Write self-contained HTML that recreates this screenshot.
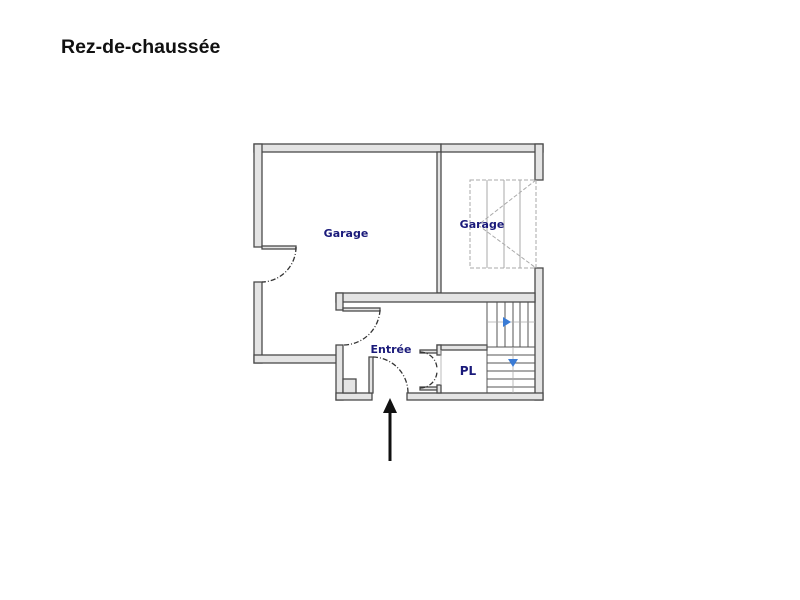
<!DOCTYPE html>
<html><head><meta charset="utf-8"><style>
html,body{margin:0;padding:0;background:#fff;}
body{width:800px;height:600px;position:relative;overflow:hidden;font-family:"Liberation Sans",sans-serif;}
.t{position:absolute;left:61px;top:36px;font-size:19.5px;font-weight:bold;color:#111;}
</style></head><body>
<div class="t">Rez-de-chaussée</div>
<svg width="800" height="600" style="position:absolute;left:0;top:0">
<g fill="#e4e4e4" stroke="#4a4a4a" stroke-width="1.3">
<rect x="254" y="144" width="187" height="8"/>
<rect x="441" y="144" width="102" height="8"/>
<rect x="535" y="144" width="8" height="36"/>
<rect x="535" y="268" width="8" height="132"/>
<rect x="254" y="144" width="8" height="103"/>
<rect x="254" y="282" width="8" height="81"/>
<rect x="254" y="355" width="86" height="8"/>
<rect x="437" y="152" width="4" height="141"/>
<rect x="336" y="293" width="199" height="9"/>
<rect x="336" y="293" width="7" height="17"/>
<rect x="336" y="345" width="7" height="55"/>
<rect x="336" y="393" width="36" height="7"/>
<rect x="407" y="393" width="136" height="7"/>
<rect x="262" y="246" width="34" height="3"/>
<rect x="343" y="308" width="37" height="3"/>
<rect x="369" y="357" width="4" height="36"/>
<rect x="343" y="379" width="13" height="14"/>
<rect x="437" y="345" width="50" height="5"/>
<rect x="420" y="350" width="20" height="3"/>
<rect x="420" y="387" width="20" height="3"/>
<rect x="437" y="345" width="4" height="10"/>
<rect x="437" y="385" width="4" height="8"/>
</g>
<g fill="none" stroke="#333" stroke-width="1.3" stroke-dasharray="5,2,1,2">
<path d="M296 247 A35 35 0 0 1 262 282"/>
<path d="M380 310 A37 37 0 0 1 343 345"/>
<path d="M373 357 A36 36 0 0 1 408 393"/>
<path d="M420 352 A17 17 0 0 1 437 369"/>
<path d="M420 388 A17 17 0 0 0 437 371"/>
</g>
<line x1="487" y1="302" x2="487" y2="393" stroke="#555" stroke-width="1"/>
<line x1="441" y1="350" x2="441" y2="385" stroke="#aaa" stroke-width="0.8"/>
<g stroke="#555" stroke-width="1">
<line x1="487" y1="347" x2="535" y2="347"/>
<line x1="497" y1="302" x2="497" y2="347"/>
<line x1="505" y1="302" x2="505" y2="347"/>
<line x1="513" y1="302" x2="513" y2="347"/>
<line x1="520" y1="302" x2="520" y2="347"/>
<line x1="528" y1="302" x2="528" y2="347"/>
<line x1="487" y1="355" x2="535" y2="355"/>
<line x1="487" y1="363" x2="535" y2="363"/>
<line x1="487" y1="371" x2="535" y2="371"/>
<line x1="487" y1="379" x2="535" y2="379"/>
<line x1="487" y1="387" x2="535" y2="387"/>
</g>
<g stroke="#aaa" stroke-width="0.8">
<line x1="487" y1="322" x2="535" y2="322"/>
<line x1="513" y1="347" x2="513" y2="393"/>
</g>
<polygon points="503,317 511,322 503,327" fill="#3a7bd5"/>
<polygon points="508,359 518,359 513,367" fill="#3a7bd5"/>
<g stroke="#aaa" stroke-width="1" fill="none">
<rect x="470" y="180" width="66" height="88" stroke-dasharray="4,2"/>
<line x1="487" y1="180" x2="487" y2="268"/>
<line x1="504" y1="180" x2="504" y2="268"/>
<line x1="520" y1="180" x2="520" y2="268"/>
<line x1="536" y1="180" x2="478" y2="225" stroke-dasharray="4,2"/>
<line x1="478" y1="225" x2="536" y2="268" stroke-dasharray="4,2"/>
</g>
<g font-family="DejaVu Sans, sans-serif" font-weight="bold" fill="#1a1a7a" font-size="11" text-anchor="middle">
<text x="346" y="237">Garage</text>
<text x="482" y="228">Garage</text>
<text x="391" y="353">Entrée</text>
<text x="468" y="375" font-size="12">PL</text>
</g>
<line x1="390" y1="412" x2="390" y2="461" stroke="#111" stroke-width="3"/>
<polygon points="383,413 390,398 397,413" fill="#111"/>
</svg>
</body></html>
